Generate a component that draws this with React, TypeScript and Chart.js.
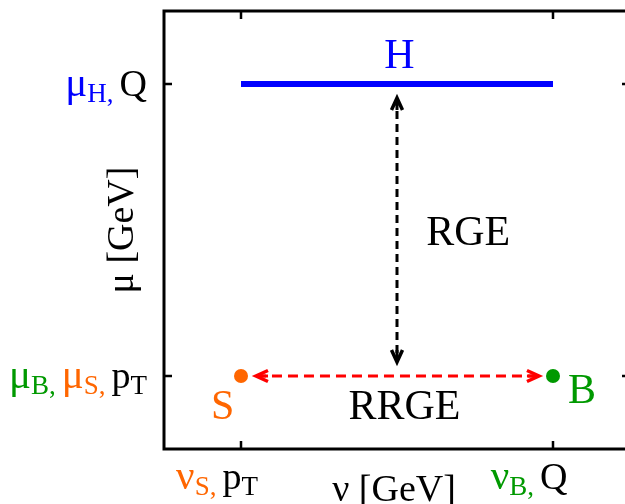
import React, { useEffect, useRef } from "react";
import { Chart, registerables } from "chart.js";

Chart.register(...registerables);

// ---------- data ----------
const nuTicks = [1, 2]; // ν axis tick values (ν_S,p_T and ν_B,Q)
const muTicks = [1, 2]; // μ axis tick values (μ_B,μ_S,p_T and μ_H,Q)

type Seg = { base: string; sub: string; part: string };
const nuTickLabels: Seg[][] = [
  [
    { base: "ν", sub: "S,", part: "S" },
    { base: "p", sub: "T", part: "plain" },
  ],
  [
    { base: "ν", sub: "B,", part: "B" },
    { base: "Q", sub: "", part: "plain" },
  ],
];
const muTickLabels: Seg[][] = [
  [
    { base: "μ", sub: "B,", part: "B" },
    { base: "μ", sub: "S,", part: "S" },
    { base: "p", sub: "T", part: "plain" },
  ],
  [
    { base: "μ", sub: "H,", part: "H" },
    { base: "Q", sub: "", part: "plain" },
  ],
];

const hardLine = [
  { x: 1, y: 2 },
  { x: 2, y: 2 },
];
const softPoint = [{ x: 1, y: 1 }];
const beamPoint = [{ x: 2, y: 1 }];
const rgeArrow = [
  { x: 1.5, y: 1.952 },
  { x: 1.5, y: 1.048 },
];
const rrgeArrow = [
  { x: 1.048, y: 1 },
  { x: 1.955, y: 1 },
];
const annotations = [
  { text: "H", x: 1.508, y: 2.055, part: "H" },
  { text: "RGE", x: 1.728, y: 1.449, part: "plain" },
  { text: "RRGE", x: 1.524, y: 0.853, part: "plain" },
  { text: "S", x: 0.941, y: 0.853, part: "S" },
  { text: "B", x: 2.093, y: 0.908, part: "B" },
];
const xTitle = "ν [GeV]";
const yTitle = "μ [GeV]";

// ---------- style ----------
const COLORS: Record<string, string> = {
  H: "#0000ff",
  S: "#ff6600",
  B: "#009900",
  plain: "#000000",
  rrge: "#ff0000",
};
const FONT = "'Liberation Serif', 'DejaVu Serif', serif";
const MAIN = 38;
const GREEK = 41;
const SUB = 27;
const ANNO = 42;

function drawSegs(ctx: CanvasRenderingContext2D, segs: Seg[], x0: number, baseline: number, measureOnly = false) {
  let x = x0;
  segs.forEach((s, i) => {
    if (i > 0) x += 6;
    ctx.fillStyle = COLORS[s.part];
    const greek = /[μν]/.test(s.base);
    ctx.font = `${greek ? GREEK : MAIN}px ${FONT}`;
    if (!measureOnly) ctx.fillText(s.base, x, baseline);
    x += ctx.measureText(s.base).width;
    if (s.sub) {
      ctx.font = `${SUB}px ${FONT}`;
      if (!measureOnly) ctx.fillText(s.sub, x, baseline + 6);
      x += ctx.measureText(s.sub).width;
    }
  });
  return x - x0;
}

function arrowHead(ctx: CanvasRenderingContext2D, tx: number, ty: number, fx: number, fy: number, color: string) {
  const dx = tx - fx;
  const dy = ty - fy;
  const len = Math.hypot(dx, dy) || 1;
  const ux = dx / len;
  const uy = dy / len;
  const px = -uy;
  const py = ux;
  const L = 12;
  const W = 5.5;
  ctx.strokeStyle = color;
  ctx.lineWidth = 3.5;
  ctx.setLineDash([]);
  ctx.lineJoin = "miter";
  ctx.beginPath();
  ctx.moveTo(tx - ux * L + px * W, ty - uy * L + py * W);
  ctx.lineTo(tx, ty);
  ctx.lineTo(tx - ux * L - px * W, ty - uy * L - py * W);
  ctx.stroke();
  ctx.lineWidth = 3;
  ctx.beginPath();
  ctx.moveTo(tx, ty);
  ctx.lineTo(tx - ux * L, ty - uy * L);
  ctx.stroke();
}

const decor = {
  id: "decor",
  afterDatasetsDraw(chart: any) {
    const { ctx, chartArea: a, scales } = chart;
    const xs = scales.x;
    const ys = scales.y;
    ctx.save();
    ctx.textBaseline = "alphabetic";

    // arrowheads
    const ends = (pts: { x: number; y: number }[], color: string) => {
      const p0 = { x: xs.getPixelForValue(pts[0].x), y: ys.getPixelForValue(pts[0].y) };
      const p1 = { x: xs.getPixelForValue(pts[1].x), y: ys.getPixelForValue(pts[1].y) };
      arrowHead(ctx, p0.x, p0.y, p1.x, p1.y, color);
      arrowHead(ctx, p1.x, p1.y, p0.x, p0.y, color);
    };
    ends(rgeArrow, COLORS.plain);
    ends(rrgeArrow, COLORS.rrge);

    // box
    ctx.setLineDash([]);
    ctx.strokeStyle = "#000";
    ctx.lineWidth = 3;
    ctx.lineJoin = "miter";
    ctx.strokeRect(a.left, a.top, a.right - a.left, a.bottom - a.top);

    // inward ticks
    ctx.lineWidth = 2.5;
    ctx.beginPath();
    nuTicks.forEach((v) => {
      const px = xs.getPixelForValue(v);
      ctx.moveTo(px, a.bottom);
      ctx.lineTo(px, a.bottom - 8);
      ctx.moveTo(px, a.top);
      ctx.lineTo(px, a.top + 8);
    });
    muTicks.forEach((v) => {
      const py = ys.getPixelForValue(v);
      ctx.moveTo(a.left, py);
      ctx.lineTo(a.left + 8, py);
      ctx.moveTo(a.right, py);
      ctx.lineTo(a.right - 8, py);
    });
    ctx.stroke();

    // tick labels
    ctx.textAlign = "left";
    nuTicks.forEach((v, i) => {
      const px = xs.getPixelForValue(v);
      const w = drawSegs(ctx, nuTickLabels[i], 0, 0, true);
      drawSegs(ctx, nuTickLabels[i], px - 24 - w / 2, a.bottom + 40);
    });
    muTicks.forEach((v, i) => {
      const py = ys.getPixelForValue(v);
      const w = drawSegs(ctx, muTickLabels[i], 0, 0, true);
      drawSegs(ctx, muTickLabels[i], a.left - 17 - w, py + 12);
    });

    // axis titles
    ctx.fillStyle = "#000";
    ctx.font = `${MAIN}px ${FONT}`;
    ctx.textAlign = "center";
    ctx.fillText(xTitle, (a.left + a.right) / 2 - 3, a.bottom + 52);
    ctx.save();
    ctx.translate(a.left - 31, (a.top + a.bottom) / 2);
    ctx.rotate(-Math.PI / 2);
    ctx.fillText(yTitle, 0, 0);
    ctx.restore();

    // annotations
    ctx.font = `${ANNO}px ${FONT}`;
    ctx.textAlign = "center";
    annotations.forEach((t) => {
      ctx.fillStyle = COLORS[t.part];
      ctx.fillText(t.text, xs.getPixelForValue(t.x), ys.getPixelForValue(t.y));
    });

    ctx.restore();
  },
};

export default function App() {
  const ref = useRef<HTMLCanvasElement | null>(null);
  useEffect(() => {
    if (!ref.current) return;
    const chart = new Chart(ref.current, {
      type: "line",
      data: {
        datasets: [
          {
            data: hardLine,
            borderColor: COLORS.H,
            borderWidth: 6,
            pointRadius: 0,
            borderCapStyle: "butt",
          },
          {
            data: rgeArrow,
            borderColor: COLORS.plain,
            borderWidth: 3,
            borderDash: [8, 5],
            pointRadius: 0,
          },
          {
            data: rrgeArrow,
            borderColor: COLORS.rrge,
            borderWidth: 3,
            borderDash: [10, 6],
            pointRadius: 0,
          },
          {
            data: softPoint,
            showLine: false,
            pointRadius: 7,
            pointBackgroundColor: COLORS.S,
            pointBorderWidth: 0,
            borderColor: COLORS.S,
          },
          {
            data: beamPoint,
            showLine: false,
            pointRadius: 7,
            pointBackgroundColor: COLORS.B,
            pointBorderWidth: 0,
            borderColor: COLORS.B,
          },
        ],
      } as any,
      options: {
        responsive: false,
        animation: false,
        parsing: false,
        layout: { padding: { top: 11, right: 10, left: 0, bottom: 0 } },
        plugins: { legend: { display: false }, tooltip: { enabled: false } },
        scales: {
          x: {
            type: "linear",
            min: 0.7532,
            max: 2.2468,
            grid: { display: false },
            border: { display: false },
            ticks: { display: false },
            afterFit: (s: any) => {
              s.height = 55;
            },
          },
          y: {
            type: "linear",
            min: 0.75,
            max: 2.25,
            grid: { display: false },
            border: { display: false },
            ticks: { display: false },
            afterFit: (s: any) => {
              s.width = 164;
            },
          },
        },
      } as any,
      plugins: [decor],
    });
    return () => chart.destroy();
  }, []);
  return (
    <div
      style={{
        position: "fixed",
        left: 0,
        top: 0,
        width: 625,
        height: 504,
        overflow: "hidden",
        background: "#fff",
      }}
    >
      <canvas ref={ref} width={640} height={504} style={{ display: "block" }} />
    </div>
  );
}
